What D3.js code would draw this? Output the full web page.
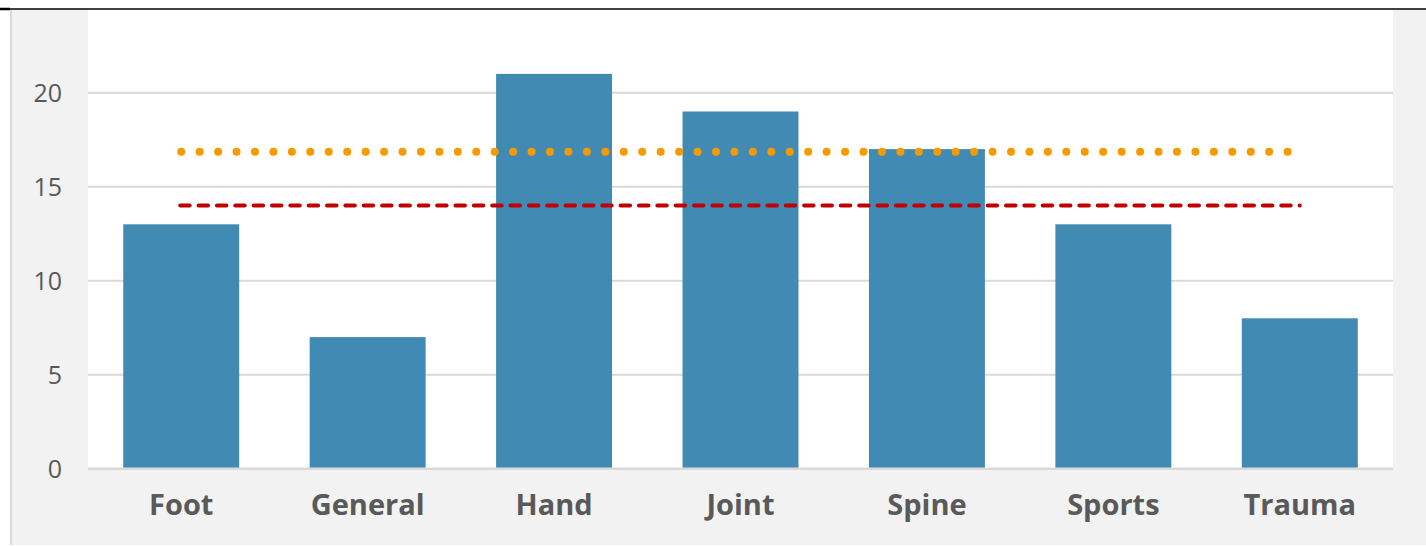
<!DOCTYPE html>
<html>
<head>
<meta charset="utf-8">
<script src="https://cdn.jsdelivr.net/npm/d3@7"></script>
<style>
  html, body { margin: 0; padding: 0; background: #ffffff; }
  svg { display: block; }
</style>
</head>
<body>
<svg id="chart" width="1426" height="546"></svg>
<script>
// ---- data ----
const categories = ["Foot", "General", "Hand", "Joint", "Spine", "Sports", "Trauma"];
const counts = [13, 7, 21, 19, 17, 13, 8];
const averageLine = 14;      // red dashed
const benchmarkLine = 16.86; // orange dotted
const yTicks = [0, 5, 10, 15, 20];
const yMax = 25;

// ---- layout ----
const W = 1426, H = 546;
const plot = { left: 88, right: 1393, top: 10, bottom: 468.7 };

const svg = d3.select("#chart");

// outer chart background
svg.append("rect").attr("x", 12).attr("y", 10).attr("width", W - 12).attr("height", 535)
  .attr("fill", "#f2f2f2");
// left border
svg.append("line").attr("x1", 11).attr("x2", 11).attr("y1", 10).attr("y2", 545)
  .attr("stroke", "#d9d9d9").attr("stroke-width", 2);
// top black rule
svg.append("line").attr("x1", 0).attr("x2", W).attr("y1", 9).attr("y2", 9)
  .attr("stroke", "#000").attr("stroke-width", 1.5);
svg.append("line").attr("x1", 0).attr("x2", 10).attr("y1", 9).attr("y2", 9)
  .attr("stroke", "#000").attr("stroke-width", 2.5);

// plot area
svg.append("rect").attr("x", plot.left).attr("y", plot.top)
  .attr("width", plot.right - plot.left).attr("height", plot.bottom - plot.top)
  .attr("fill", "#ffffff");

const x = d3.scaleBand().domain(categories).range([plot.left, plot.right])
  .paddingInner(0.378).paddingOuter(0.189);
const y = d3.scaleLinear().domain([0, yMax]).range([plot.bottom, plot.bottom - yMax * 18.8]);

const fontFamily = "'Open Sans', 'Noto Sans', sans-serif";

// gridlines
svg.append("g").selectAll("line").data(yTicks.filter(d => d > 0)).join("line")
  .attr("x1", plot.left).attr("x2", plot.right)
  .attr("y1", d => y(d)).attr("y2", d => y(d))
  .attr("stroke", "#d9d9d9").attr("stroke-width", 2);

// y axis labels
const yAxis = d3.axisLeft(y).tickValues(yTicks).tickSize(0).tickPadding(0);
const yg = svg.append("g").attr("transform", `translate(62,0)`).call(yAxis);
yg.select(".domain").remove();
yg.selectAll("text").attr("font-family", fontFamily).attr("font-size", 25)
  .attr("fill", "#595959").attr("dy", "0.34em");

// bars
svg.append("g").selectAll("rect").data(categories).join("rect")
  .attr("x", d => x(d)).attr("width", x.bandwidth())
  .attr("y", (d, i) => y(counts[i])).attr("height", (d, i) => y(0) - y(counts[i]))
  .attr("fill", "#418ab4");

// x axis line
svg.append("line").attr("x1", plot.left).attr("x2", plot.right)
  .attr("y1", y(0)).attr("y2", y(0))
  .attr("stroke", "#d9d9d9").attr("stroke-width", 2.5);

// x axis labels
const xAxis = d3.axisBottom(x).tickSize(0).tickPadding(0);
const xg = svg.append("g").attr("transform", `translate(0,${y(0)})`).call(xAxis);
xg.select(".domain").remove();
xg.selectAll("text").attr("font-family", fontFamily).attr("font-size", 29)
  .attr("font-weight", "bold").attr("fill", "#595959")
  .attr("dy", null).attr("y", 46);

// reference lines (from first to last category center)
const xStart = x(categories[0]) + x.bandwidth() / 2;
const xEnd = x(categories[categories.length - 1]) + x.bandwidth() / 2;

svg.append("line").attr("x1", xStart - 1).attr("x2", xEnd)
  .attr("y1", y(averageLine)).attr("y2", y(averageLine))
  .attr("stroke", "#c00000").attr("stroke-width", 4)
  .attr("stroke-linecap", "round").attr("stroke-dasharray", "9.5,8.85");

svg.append("line").attr("x1", xStart).attr("x2", xEnd - 10)
  .attr("y1", y(benchmarkLine)).attr("y2", y(benchmarkLine))
  .attr("stroke", "#f79a00").attr("stroke-width", 8)
  .attr("stroke-linecap", "round").attr("stroke-dasharray", "0.01,18.43");
</script>
</body>
</html>
